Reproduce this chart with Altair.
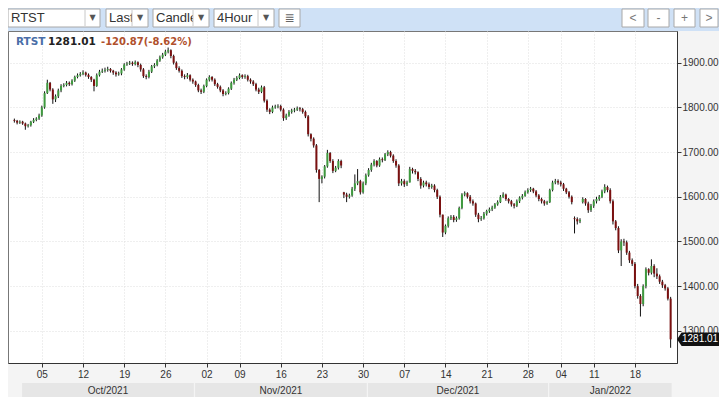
import altair as alt
import pandas as pd

# ---------------- data ----------------
symbol = "RTST"
last_price = 1281.01
change_txt = "-120.87(-8.62%)"

bars_per_day = 3
n_days = 80          # trading days Sep 30 2021 .. Jan 24 2022
first_open = 1772

closes = [
    1770, 1766, 1768,  1764, 1758, 1760,  1768, 1772, 1775,  1782, 1800, 1832,
    1855, 1840, 1818,  1825, 1838, 1848,  1850, 1855, 1852,  1860, 1868, 1872,
    1875, 1878, 1873,  1868, 1862, 1848,  1872, 1880, 1882,  1884, 1886, 1882,
    1878, 1874, 1876,  1885, 1896, 1898,  1900, 1897, 1901,  1895, 1885, 1870,
    1868, 1880, 1892,  1895, 1905, 1912,  1918, 1925, 1928,  1915, 1900, 1888,
    1882, 1870, 1868,  1872, 1862, 1858,  1850, 1838, 1835,  1848, 1862, 1868,
    1862, 1852, 1846,  1838, 1830, 1832,  1842, 1855, 1862,  1866, 1872, 1868,
    1870, 1862, 1858,  1852, 1840, 1835,  1845, 1815, 1795,  1790, 1800, 1802,
    1803, 1795, 1776,  1782, 1790, 1793,  1795, 1798, 1796,  1790, 1780, 1740,
    1730, 1715, 1660,  1640, 1645, 1668,  1698, 1680, 1658,  1665, 1680, 1670,
    1605, 1600, 1603,  1618, 1630, 1635,  1610, 1630, 1648,  1660, 1672, 1680,
    1670, 1684, 1682,  1695, 1700, 1692,  1680, 1670, 1630,  1635, 1628, 1632,
    1662, 1658, 1655,  1640, 1625, 1632,  1628, 1622, 1625,  1615, 1600, 1560,
    1520, 1535, 1552,  1555, 1548, 1552,  1575, 1605, 1608,  1600, 1590, 1585,
    1560, 1550, 1552,  1562, 1568, 1572,  1576, 1583, 1588,  1600, 1605, 1595,
    1590, 1583, 1580,  1590, 1598, 1602,  1610, 1615, 1618,  1612, 1603, 1595,
    1590, 1585, 1588,  1615, 1632, 1635,  1632, 1628, 1618,  1610, 1600, 1588,
    1550, 1545, 1548,  1595, 1585, 1570,  1580, 1590, 1595,  1600, 1612, 1622,
    1615, 1590, 1545,  1530, 1480, 1500,  1498, 1475, 1458,  1450, 1400, 1378,
    1360, 1400, 1438,  1430, 1445, 1428,  1422, 1410, 1402,  1395, 1372, 1281.01,
]
highs = [
    1775, 1772, 1771,  1770, 1766, 1763,  1770, 1776, 1778,  1786, 1804, 1836,
    1862, 1857, 1843,  1829, 1842, 1852,  1854, 1859, 1858,  1863, 1871, 1876,
    1879, 1883, 1880,  1876, 1870, 1864,  1876, 1884, 1887,  1889, 1891, 1888,
    1884, 1881, 1880,  1888, 1899, 1902,  1904, 1903, 1905,  1903, 1898, 1888,
    1874, 1884, 1895,  1899, 1908, 1916,  1922, 1929, 1934,  1930, 1918, 1903,
    1892, 1885, 1874,  1877, 1874, 1865,  1860, 1853, 1842,  1851, 1865, 1872,
    1870, 1865, 1855,  1849, 1841, 1836,  1845, 1858, 1866,  1870, 1876, 1874,
    1874, 1873, 1865,  1861, 1855, 1844,  1849, 1848, 1818,  1798, 1804, 1806,
    1807, 1806, 1798,  1786, 1794, 1797,  1799, 1802, 1801,  1799, 1793, 1783,
    1742, 1733, 1718,  1662, 1648, 1671,  1705, 1700, 1684,  1669, 1684, 1683,
    1611, 1609, 1607,  1622, 1650, 1662,  1638, 1634, 1652,  1664, 1676, 1684,
    1682, 1688, 1688,  1698, 1704, 1703,  1695, 1684, 1673,  1640, 1639, 1636,
    1667, 1665, 1662,  1657, 1644, 1636,  1636, 1632, 1629,  1628, 1618, 1603,
    1560, 1538, 1556,  1559, 1559, 1556,  1578, 1608, 1612,  1610, 1604, 1594,
    1587, 1564, 1557,  1566, 1571, 1576,  1580, 1586, 1592,  1604, 1610, 1607,
    1597, 1593, 1586,  1594, 1601, 1606,  1614, 1619, 1622,  1620, 1615, 1606,
    1598, 1593, 1591,  1618, 1636, 1640,  1639, 1636, 1631,  1620, 1613, 1603,
    1556, 1554, 1552,  1599, 1597, 1589,  1584, 1594, 1600,  1604, 1616, 1628,
    1625, 1619, 1594,  1548, 1534, 1505,  1506, 1502, 1479,  1462, 1454, 1405,
    1382, 1404, 1442,  1440, 1460, 1449,  1440, 1426, 1414,  1405, 1398, 1376,
]
lows = [
    1766, 1762, 1763,  1761, 1750, 1755,  1757, 1765, 1769,  1772, 1779, 1797,
    1830, 1836, 1808,  1812, 1821, 1834,  1845, 1847, 1848,  1849, 1857, 1865,
    1869, 1872, 1869,  1864, 1857, 1836,  1846, 1869, 1877,  1878, 1880, 1878,
    1873, 1869, 1871,  1872, 1882, 1893,  1895, 1893, 1894,  1890, 1880, 1866,
    1863, 1865, 1877,  1888, 1892, 1902,  1909, 1915, 1921,  1910, 1896, 1884,
    1878, 1866, 1863,  1864, 1858, 1853,  1846, 1834, 1830,  1832, 1845, 1858,
    1858, 1848, 1842,  1834, 1825, 1827,  1829, 1839, 1851,  1859, 1863, 1864,
    1864, 1858, 1853,  1848, 1836, 1830,  1832, 1811, 1790,  1785, 1787, 1797,
    1798, 1791, 1770,  1772, 1779, 1786,  1789, 1792, 1791,  1786, 1776, 1735,
    1724, 1710, 1654,  1588, 1630, 1641,  1665, 1676, 1653,  1655, 1661, 1664,
    1597, 1588, 1596,  1600, 1613, 1626,  1605, 1607, 1626,  1645, 1656, 1668,
    1666, 1667, 1677,  1680, 1691, 1688,  1676, 1665, 1624,  1625, 1622, 1624,
    1632, 1652, 1650,  1635, 1618, 1621,  1623, 1617, 1618,  1610, 1595, 1554,
    1510, 1516, 1531,  1548, 1543, 1544,  1549, 1572, 1601,  1596, 1585, 1580,
    1555, 1543, 1546,  1549, 1558, 1564,  1568, 1573, 1580,  1586, 1597, 1591,
    1585, 1578, 1574,  1577, 1586, 1594,  1600, 1607, 1611,  1608, 1599, 1590,
    1585, 1580, 1582,  1586, 1612, 1628,  1627, 1623, 1613,  1606, 1596, 1583,
    1518, 1538, 1541,  1585, 1580, 1564,  1566, 1575, 1585,  1591, 1597, 1608,
    1610, 1585, 1538,  1525, 1474, 1445,  1490, 1470, 1452,  1445, 1395, 1372,
    1332, 1355, 1395,  1424, 1426, 1420,  1416, 1405, 1396,  1390, 1368, 1262,
]
# bars that open away from the previous close (price gaps)
gap_bars = [120, 204, 207]
gap_opens = [1610, 1552, 1588]

# weekly tick marks (trading-day index of each Tuesday) and their labels
tick_days = [3, 8, 13, 18, 23, 27, 32, 37, 42, 47, 52, 57, 62, 66, 70, 75]
tick_labels = ["05", "12", "19", "26", "02", "09", "16", "23", "30",
               "07", "14", "21", "28", "04", "11", "18"]
y_ticks = [1300, 1400, 1500, 1600, 1700, 1800, 1900]
y_domain = [1228, 1971]

months = ["Oct/2021", "Nov/2021", "Dec/2021", "Jan/2022"]
month_first_day = [1, 22, 43, 65]
month_end_day = [22, 43, 65, 80]

toolbar_items = ["RTST", "Last", "Candle", "4Hour"]
nav_buttons = ["<", "-", "+", ">"]

# ---------------- build tables ----------------
rows = []
prev = first_open
for i, c in enumerate(closes):
    o = gap_opens[gap_bars.index(i)] if i in gap_bars else prev
    rows.append({
        "x": (i // bars_per_day) + ((i % bars_per_day) + 0.5) / bars_per_day,
        "open": o, "close": c,
        "high": max(highs[i], o, c), "low": min(lows[i], o, c),
        "dir": "up" if c >= o else "down",
    })
    prev = c
df = pd.DataFrame(rows)

mdf = pd.DataFrame({
    "m": months,
    "start": [d + 0.1 for d in month_first_day],
    "end": [d - 0.05 for d in month_end_day],
})
mdf["mid"] = (mdf["start"] + mdf["end"]) / 2

one = pd.DataFrame({"v": [last_price]})

# ---------------- scales / axes ----------------
W, H = 669, 332
PAD_R = 42
FONT = "Liberation Sans"

tick_vals = [d + 0.5 for d in tick_days]
label_expr = ("[" + ",".join("'%s'" % t for t in tick_labels) + "][indexof(["
              + ",".join(str(v) for v in tick_vals) + "], datum.value)]")

xscale = alt.Scale(domain=[0, n_days], nice=False, zero=False)
yscale = alt.Scale(domain=y_domain, nice=False, zero=False)

xaxis = alt.Axis(values=tick_vals, labelExpr=label_expr, title=None,
                 grid=True, gridColor="#dedede", gridDash=[1, 2],
                 tickColor="#333", tickSize=4, domainColor="#333",
                 labelFont=FONT, labelFontSize=10, labelColor="#333",
                 labelPadding=2, labelFlush=False, labelOverlap=False)
yaxis = alt.Axis(values=y_ticks, format=".2f", orient="right", title=None,
                 grid=True, gridColor="#dedede", gridDash=[1, 2],
                 tickColor="#333", tickSize=4, domainColor="#333",
                 labelFont=FONT, labelFontSize=10, labelColor="#333",
                 labelPadding=1)


def X(field):
    return alt.X(field, type="quantitative", scale=xscale, axis=xaxis)


def Y(field):
    return alt.Y(field, type="quantitative", scale=yscale, axis=yaxis)


base = alt.Chart(df)

wicks = base.mark_rule(color="#111", strokeWidth=1).encode(
    x=X("x"), y=Y("low"), y2="high")

bodies = base.mark_bar(size=2).encode(
    x=X("x"), y=Y("open"), y2="close",
    color=alt.Color("dir:N", scale=alt.Scale(domain=["up", "down"],
                                             range=["#3f9a3f", "#7a1010"]),
                    legend=None))

# ---------------- chrome ----------------
dummy = pd.DataFrame({"a": [0]})


def vrect(x, x2, y, y2, fill, stroke=""):
    kw = {"fill": fill}
    if stroke:
        kw["stroke"] = stroke
        kw["strokeWidth"] = 1
    return alt.Chart(dummy).mark_rect(**kw).encode(
        x=alt.value(x), x2=alt.value(x2), y=alt.value(y), y2=alt.value(y2))


def vtext(x, y, text, size=13, color="#333", weight="normal",
          align="left", font=FONT):
    return alt.Chart(dummy).mark_text(
        text=text, fontSize=size, color=color, fontWeight=weight,
        align=align, baseline="middle", font=font).encode(
        x=alt.value(x), y=alt.value(y))


layers = []
# toolbar band
layers.append(vrect(0, W + PAD_R, -23, 0, "#cfe1f6"))
# dropdown boxes: (left, divider, right)
box_geom = [(0, 77, 92), (98, 124, 140), (145, 185, 201), (206, 250, 266)]
for label, (l, dv, r) in zip(toolbar_items, box_geom):
    layers.append(vrect(l, r, -22, -4, "#ffffff", "#a8a8a8"))
    layers.append(vtext(l + 3, -13, label))
    layers.append(vrect(dv, r - 1, -21, -5, "#ffffff"))
    layers.append(alt.Chart(dummy).mark_rule(color="#c8c8c8").encode(
        x=alt.value(dv), y=alt.value(-21), y2=alt.value(-5)))
    layers.append(vtext((dv + r) / 2, -13, "\u25BC", size=8, color="#555",
                        align="center", font="DejaVu Sans"))
# list icon box
layers.append(vrect(271, 292, -22, -4, "#ffffff", "#a8a8a8"))
layers.append(vtext(281.5, -13, "\u2263", size=12, color="#666",
                    align="center", font="DejaVu Sans"))
# navigation buttons
nav_geom = [(614, 636), (640, 661), (666, 687), (692, 710)]
for label, (l, r) in zip(nav_buttons, nav_geom):
    layers.append(vrect(l, r, -22, -4, "#ffffff", "#a8a8a8"))
    layers.append(vtext((l + r) / 2, -13, label, size=12, color="#777",
                        align="center"))

# month bands
bands = alt.Chart(mdf).mark_rect(fill="#e6e6e6").encode(
    x=X("start"), x2="end", y=alt.value(H + 20), y2=alt.value(H + 34))
band_txt = alt.Chart(mdf).mark_text(
    font=FONT, fontSize=10, color="#333", baseline="middle").encode(
    x=X("mid"), y=alt.value(H + 28), text="m:N")

# header text inside the plot
hdr = [
    vtext(8, 11, symbol, size=10.5, color="#4a6ea8", weight="bold",
          font="DejaVu Sans"),
    vtext(40, 11, "%.2f" % last_price, size=10.5, color="#222",
          weight="bold", font="DejaVu Sans"),
    vtext(93, 11, change_txt, size=10, color="#b0502c", weight="bold",
          font="DejaVu Sans"),
]

# last price flag on the axis
flag_path = "M-1,0 L-0.78,-0.32 L1,-0.32 L1,0.32 L-0.78,0.32 Z"
flag = alt.Chart(one).mark_point(shape=flag_path, filled=True, color="#111",
                                 opacity=1, size=42 * 42).encode(
    x=alt.value(W + 21), y=Y("v"))
flag_txt = alt.Chart(one).mark_text(
    font=FONT, fontSize=10, color="#ffffff", align="left",
    baseline="middle").encode(
    x=alt.value(W + 5), y=Y("v"), text=alt.value("%.2f" % last_price))

chart = alt.layer(
    *layers, bands, band_txt, wicks, bodies, *hdr, flag, flag_txt
).properties(
    width=W, height=H,
    padding={"left": 0, "top": 23, "right": PAD_R, "bottom": 34},
    autosize=alt.AutoSizeParams(type="none"),
    background="#f4f4f4",
).configure_view(stroke="#777", fill="#ffffff")

chart.save("out.html", embed_options={"renderer": "svg", "actions": False})
